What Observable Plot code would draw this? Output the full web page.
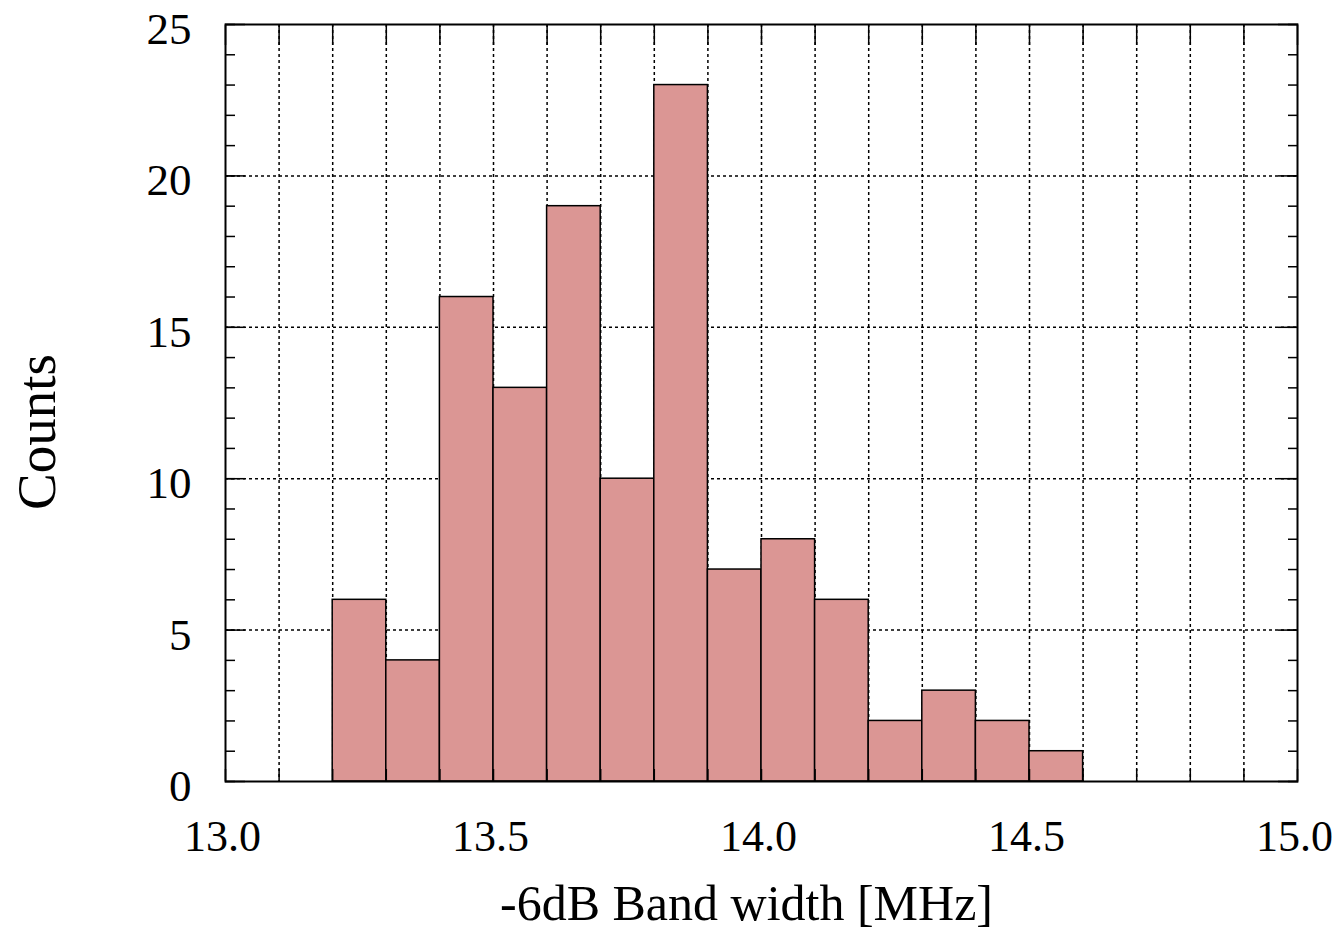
<!DOCTYPE html>
<html><head><meta charset="utf-8">
<script src="https://cdn.jsdelivr.net/npm/d3@7"></script>
<script src="https://cdn.jsdelivr.net/npm/@observablehq/plot@0.6"></script>
<style>
body{margin:0;background:#fff;}
svg{font-family:"Liberation Serif","DejaVu Serif",serif;}
</style></head><body>
<div id="chart"></div>
<script>
const binStart = [13.2,13.3,13.4,13.5,13.6,13.7,13.8,13.9,14.0,14.1,14.2,14.3,14.4,14.5];
const binEnd   = [13.3,13.4,13.5,13.6,13.7,13.8,13.9,14.0,14.1,14.2,14.3,14.4,14.5,14.6];
const counts   = [6,4,16,13,19,10,23,7,8,6,2,3,2,1];
const xTickLabels = [13.0,13.5,14.0,14.5,15.0];
const xGrid = d3.range(1,20).map(i => +(13 + i*0.1).toFixed(1));
const yMajor = [0,5,10,15,20,25];
const yMinor = d3.range(0,26);
const xAll = d3.range(0,21).map(i => +(13 + i*0.1).toFixed(1));

const bins = binStart.map((s,i)=>({x1:s,x2:binEnd[i],y:counts[i]}));

const chart = Plot.plot({
  width:1338, height:950,
  marginLeft:225, marginRight:41, marginTop:24, marginBottom:169,
  x:{domain:[13,15]},
  y:{domain:[0,25]},
  style:{fontFamily:"Liberation Serif, serif", fontSize:"44px", color:"#000", background:"#fff", overflow:"visible"},
  marks:[
    Plot.ruleX(xGrid,{stroke:"#000",strokeWidth:1.5,strokeDasharray:"3,3"}),
    Plot.ruleY([5,10,15,20],{stroke:"#000",strokeWidth:1.5,strokeDasharray:"3,3"}),
    Plot.rectY(bins,{x1:"x1",x2:"x2",y:"y",fill:"#db9694",stroke:"#000",strokeWidth:1.5}),
    Plot.axisX(xAll,{anchor:"bottom",tickSize:-12,text:null,label:null,strokeWidth:1.5}),
    Plot.axisX(xAll,{anchor:"top",tickSize:-20,text:null,label:null,strokeWidth:1.5}),
    Plot.axisY(yMinor,{anchor:"left",tickSize:-10,text:null,label:null,strokeWidth:1.5}),
    Plot.axisY(yMinor,{anchor:"right",tickSize:-10,text:null,label:null,strokeWidth:1.5}),
    Plot.axisY(yMajor,{anchor:"left",tickSize:-20,text:null,label:null,strokeWidth:1.5}),
    Plot.axisY(yMajor,{anchor:"right",tickSize:-20,text:null,label:null,strokeWidth:1.5}),
    Plot.axisX(xTickLabels,{anchor:"bottom",tickSize:0,tickPadding:38,fontSize:44,dx:-3,tickFormat:d=>d.toFixed(1),label:null}),
    Plot.axisY(yMajor,{anchor:"left",tickSize:0,tickPadding:34,fontSize:45,dy:5,label:null}),
    Plot.frame({stroke:"#000",strokeWidth:2}),
    Plot.text(["-6dB Band width [MHz]"],{frameAnchor:"bottom",dx:-15,dy:138,fontSize:50,fill:"#000"}),
    Plot.text(["Counts"],{frameAnchor:"left",textAnchor:"middle",dx:-188,dy:29,rotate:-90,fontSize:55,fill:"#000"})
  ]
});
document.getElementById("chart").appendChild(chart);
</script></body></html>
